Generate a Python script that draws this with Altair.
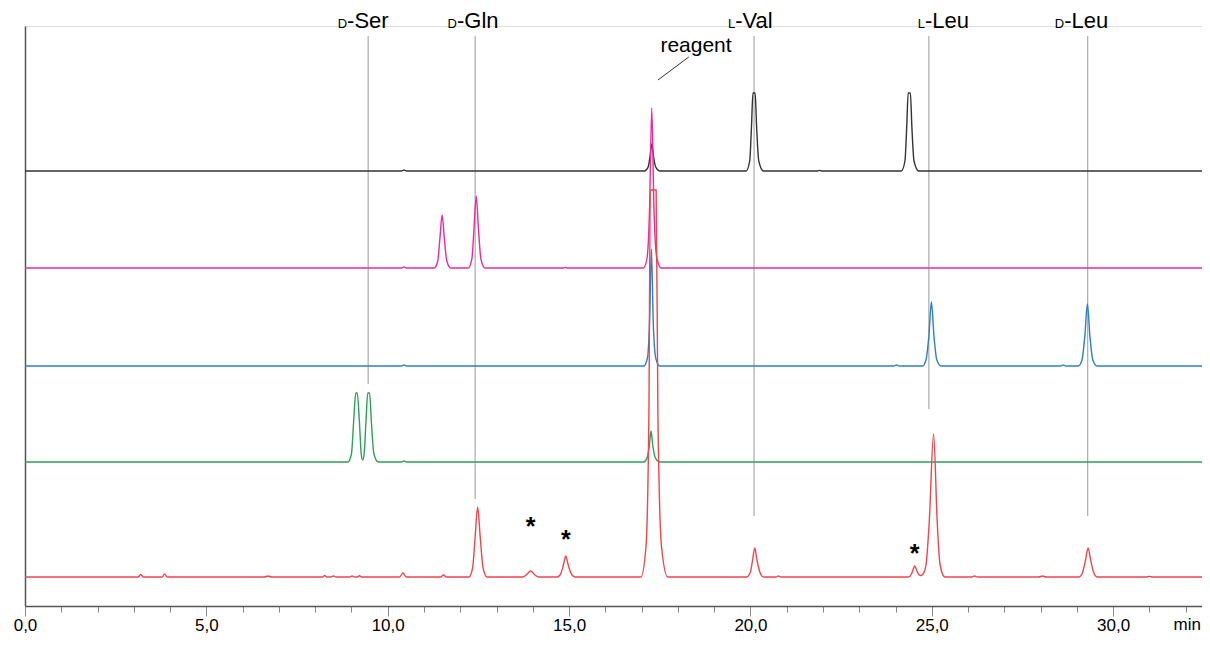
import altair as alt
import pandas as pd

# ---------------- data ----------------
trace_names = ["std_LVal_LLeu", "std_DGln", "std_DLeu", "std_DSer", "sample"]
trace_colors = ["#333333", "#EE2A9B", "#2F7FC4", "#2E9E5A", "#F0454C"]
# baseline of each trace in the stacked display (signal units)
trace_offsets = [435, 338, 240, 144, 29]

# (time / min, signal) pairs of each chromatogram
black = [(0.0, 0), (10.38, 0), (10.45, 1), (10.52, 0),
         (17.08, 0), (17.18, 4), (17.23, 14), (17.28, 27), (17.33, 14), (17.39, 4), (17.5, 0),
         (19.88, 0), (19.98, 10), (20.03, 45), (20.07, 78), (20.13, 78), (20.17, 45), (20.23, 10), (20.36, 0),
         (21.85, 0), (21.9, 0.6), (21.95, 0),
         (24.16, 0), (24.26, 10), (24.31, 45), (24.35, 78), (24.41, 78), (24.45, 45), (24.51, 10), (24.64, 0),
         (32.7, 0)]
magenta = [(0.0, 0), (10.38, 0), (10.45, 1), (10.52, 0),
           (11.28, 0), (11.38, 7), (11.44, 30), (11.5, 53), (11.56, 30), (11.63, 7), (11.74, 0),
           (12.22, 0), (12.32, 9), (12.38, 40), (12.44, 72), (12.5, 40), (12.57, 9), (12.68, 0),
           (14.85, 0), (14.9, 0.6), (14.95, 0),
           (17.05, 0), (17.15, 10), (17.22, 60), (17.28, 160), (17.34, 60), (17.42, 10), (17.54, 0),
           (32.7, 0)]
blue = [(0.0, 0), (10.38, 0), (10.45, 1), (10.52, 0),
        (17.06, 0), (17.16, 8), (17.22, 45), (17.27, 117), (17.32, 45), (17.39, 8), (17.5, 0),
        (23.95, 0), (24.03, 1), (24.11, 0),
        (24.74, 0), (24.84, 6), (24.92, 30), (24.99, 64), (25.06, 30), (25.14, 6), (25.26, 0),
        (28.55, 0), (28.62, 1), (28.7, 0),
        (29.04, 0), (29.14, 6), (29.22, 30), (29.29, 62), (29.36, 30), (29.44, 6), (29.56, 0),
        (32.7, 0)]
green = [(0.0, 0), (8.9, 0), (9.0, 8), (9.06, 40), (9.12, 69), (9.16, 69), (9.22, 40), (9.27, 8),
         (9.31, 2), (9.35, 8), (9.4, 40), (9.45, 69), (9.5, 69), (9.55, 40), (9.62, 8), (9.74, 0),
         (10.38, 0), (10.45, 1), (10.52, 0),
         (17.06, 0), (17.15, 4), (17.21, 16), (17.26, 31), (17.31, 16), (17.38, 4), (17.5, 0),
         (32.7, 0)]
red = [(0.0, 0), (3.12, 0), (3.19, 2.5), (3.26, 0), (3.78, 0), (3.85, 3), (3.92, 0),
       (6.6, 0), (6.7, 1), (6.8, 0),
       (8.2, 0), (8.26, 1.5), (8.32, 0), (8.42, 0), (8.5, 1), (8.58, 0),
       (8.95, 0), (9.02, 1), (9.09, 0), (9.16, 0), (9.22, 1.2), (9.28, 0),
       (10.33, 0), (10.42, 4), (10.51, 0),
       (11.46, 0), (11.54, 2), (11.62, 0),
       (12.24, 0), (12.34, 9), (12.41, 40), (12.48, 70), (12.55, 40), (12.63, 9), (12.74, 0),
       (13.72, 0), (13.82, 2), (13.94, 6), (14.06, 2), (14.16, 0),
       (14.68, 0), (14.78, 4), (14.85, 13), (14.91, 21), (14.97, 13), (15.05, 4), (15.16, 0),
       (16.98, 0), (17.12, 30), (17.2, 160), (17.24, 387), (17.4, 387), (17.45, 160), (17.55, 30), (17.72, 0),
       (19.9, 0), (20.0, 5), (20.06, 17), (20.12, 29), (20.18, 17), (20.26, 5), (20.36, 0),
       (20.7, 0), (20.77, 1), (20.84, 0),
       (24.36, 0), (24.44, 3), (24.49, 8), (24.53, 11), (24.58, 7), (24.64, 2.5), (24.7, 1.5),
       (24.76, 3), (24.84, 12), (24.93, 55), (25.05, 143), (25.15, 55), (25.23, 12), (25.36, 0),
       (26.1, 0), (26.18, 1), (26.26, 0),
       (27.95, 0), (28.05, 1), (28.15, 0),
       (29.06, 0), (29.16, 5), (29.24, 17), (29.31, 29), (29.38, 17), (29.46, 5), (29.56, 0),
       (30.9, 0), (31.0, 0.6), (31.1, 0),
       (32.7, 0)]

# peak assignments
ann_prefix = ["D", "D", "L", "L", "D"]
ann_rest = ["-Ser", "-Gln", "-Val", "-Leu", "-Leu"]
ann_line_x = [9.46, 12.41, 20.1, 24.92, 29.3]
ann_line_bottom = [222, 107, 90, 197, 90]
ann_line_top = [570, 570, 570, 570, 570]
ann_label_x = [8.88, 11.91, 19.58, 24.81, 28.65]
ann_label_y = [578, 578, 578, 578, 578]

star_x = [13.94, 14.91, 24.53]
star_y = [84, 71, 57]

reagent_text_x = [18.5]
reagent_text_y = [554]
reagent_line_x = [18.3, 17.45]
reagent_line_y = [549, 526]

tick_values = list(range(0, 33))
x_max = 32.45

# ---------------- build tables ----------------
rows = []
for name, pts, off in zip(trace_names, [black, magenta, blue, green, red], trace_offsets):
    for t, s in pts:
        if t <= x_max:
            rows.append({"trace": name, "x": t, "y": s + off})
    rows.append({"trace": name, "x": x_max, "y": off})
df = pd.DataFrame(rows)

ann = pd.DataFrame({"x": ann_line_x, "y": ann_line_top, "y2": ann_line_bottom})
lab = pd.DataFrame({"x": ann_label_x, "y": ann_label_y, "pre": ann_prefix, "rest": ann_rest})
stars = pd.DataFrame({"x": star_x, "y": star_y, "t": ["*"] * len(star_x)})
reag = pd.DataFrame({"x": reagent_text_x, "y": reagent_text_y, "t": ["reagent"]})
reag_line = pd.DataFrame({"x": [reagent_line_x[0]], "y": [reagent_line_y[0]],
                          "x2": [reagent_line_x[1]], "y2": [reagent_line_y[1]]})
unit = pd.DataFrame({"x": [x_max], "t": ["min"]})

FONT = "Liberation Sans"
xscale = alt.Scale(domain=[0, x_max], nice=False, zero=False)
yscale = alt.Scale(domain=[0, 580], nice=False, zero=False)

xaxis = alt.Axis(
    values=tick_values, title=None, grid=False,
    domainColor="#555555", domainWidth=1.5,
    tickColor="#888888", tickWidth=1,
    tickSize=alt.condition("datum.value % 5 === 0", alt.value(10), alt.value(6)),
    labelExpr="datum.value % 5 === 0 ? replace(format(datum.value, '.1f'), '.', ',') : ''",
    labelFont=FONT, labelFontSize=17, labelColor="#000000", labelPadding=1,
    labelFlush=False, labelOverlap=False,
)
yaxis = alt.Axis(title=None, grid=False, ticks=False, labels=False,
                 domainColor="#555555", domainWidth=1.5)

X = alt.X("x:Q", scale=xscale, axis=xaxis)
Y = alt.Y("y:Q", scale=yscale, axis=yaxis)

lines = alt.Chart(df).mark_line(interpolate="monotone", strokeWidth=1.4).encode(
    x=X, y=Y,
    color=alt.Color("trace:N", scale=alt.Scale(domain=trace_names, range=trace_colors), legend=None),
    detail="trace:N",
)

rules = alt.Chart(ann).mark_rule(color="#999999", strokeWidth=1).encode(x=X, y=Y, y2="y2:Q")

pre = alt.Chart(lab).mark_text(align="right", baseline="alphabetic", font=FONT, fontSize=13,
                               color="#000000").encode(x=X, y=Y, text="pre:N")
rest = alt.Chart(lab).mark_text(align="left", baseline="alphabetic", font=FONT, fontSize=22,
                                color="#000000").encode(x=X, y=Y, text="rest:N")

star_txt = alt.Chart(stars).mark_text(align="center", baseline="alphabetic", font=FONT,
                                      fontSize=25, fontWeight="bold", dy=13,
                                      color="#000000").encode(x=X, y=Y, text="t:N")

reag_txt = alt.Chart(reag).mark_text(align="center", baseline="alphabetic", font=FONT,
                                     fontSize=21, color="#000000").encode(x=X, y=Y, text="t:N")
reag_rule = alt.Chart(reag_line).mark_rule(color="#333333", strokeWidth=1).encode(
    x=X, y=Y, x2="x2:Q", y2="y2:Q")

unit_txt = alt.Chart(unit).mark_text(align="right", baseline="top", font=FONT, fontSize=17,
                                     dx=-1, color="#000000").encode(x=X, y=alt.value(591), text="t:N")

chart = alt.layer(rules, lines, reag_rule, pre, rest, star_txt, reag_txt, unit_txt).properties(
    width=1177, height=580,
    padding={"left": 17, "top": 18, "right": 0, "bottom": 30},
    autosize=alt.AutoSizeParams(type="none"),
).configure_view(stroke=None).configure(background="white")

chart.save("out.html", embed_options={"renderer": "svg", "actions": False})
